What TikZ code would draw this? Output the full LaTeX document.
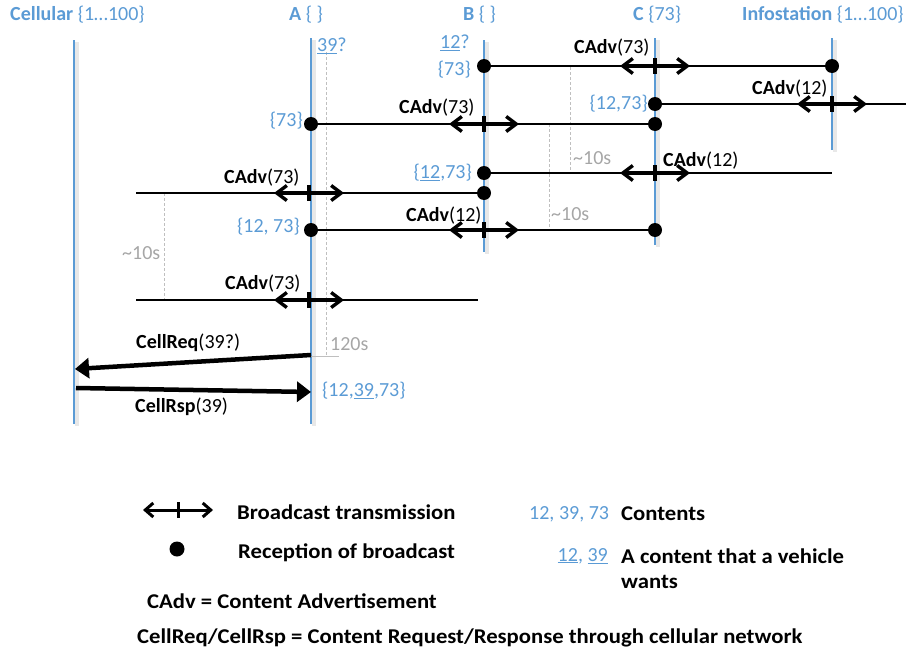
\documentclass[tikz,border=0pt]{standalone}
\usepackage{fontspec}
\setmainfont{Carlito}
\usetikzlibrary{arrows.meta}
\definecolor{lblue}{HTML}{5B9BD5}
\definecolor{tgray}{HTML}{A6A6A6}
\definecolor{dgray}{HTML}{BFBFBF}
\newcommand\bcmark[3]{%
  \coordinate (#1l) at ({#2-35},#3);
  \coordinate (#1r) at ({#2+35},#3);
  \coordinate (#1t) at (#2,{#3-8});
  \coordinate (#1b) at (#2,{#3+8});
  \draw[bcarrow] (#1l) -- (#1r);
  \draw[bctick] (#1t) -- (#1b);}
\newcommand\legtext[1]{\fontsize{21}{25}\selectfont\scalebox{1.08}[1]{\textbf{#1}}}
\begin{document}
\begin{tikzpicture}[x=1pt,y=-1pt,font=\fontsize{20}{24}\selectfont,
  lifeline/.style={draw=lblue,line width=2.5pt},
  lshadow/.style={draw=black,opacity=0.09,line width=3.5pt},
  msg/.style={draw=black,line width=1.3pt},
  bcarrow/.style={draw=black,line width=3.4pt,{Straight Barb[length=10pt,width=15pt]}-{Straight Barb[length=10pt,width=15pt]}},
  bctick/.style={draw=black,line width=3.4pt},
  dot/.style={circle,fill=black,minimum size=14pt,inner sep=0pt},
  gdash/.style={draw=dgray,line width=0.8pt,dash pattern=on 3pt off 2pt},
  cellarr/.style={draw=black,line width=4.5pt,-{Triangle[length=14pt,width=20pt]}},
  lbl/.style={inner sep=0pt,anchor=west},
  lble/.style={inner sep=0pt,anchor=east},
  bl/.style={text=lblue},
  gl/.style={text=tgray}]
\useasboundingbox (0,0) rectangle (906,656);

% headers
\node[lbl,bl] (hCell) at (10,15) {\textbf{Cellular} \{1…100\}};
\node[lbl,bl] (hA) at (289,15) {\textbf{A} \{~\}};
\node[lbl,bl] (hB) at (463,15) {\textbf{B} \{~\}};
\node[lbl,bl] (hC) at (633,15) {\textbf{C} \{73\}};
\node[lbl,bl] (hI) at (742,15) {\textbf{Infostation} \{1…100\}};

% lifelines
\coordinate (cT) at (74,40);  \coordinate (cB) at (74,424);
\coordinate (aT) at (311,38); \coordinate (aB) at (311,424);
\coordinate (bT) at (484,40); \coordinate (bB) at (484,252);
\coordinate (CT) at (655,38); \coordinate (CB) at (655,245);
\coordinate (iT) at (832,38); \coordinate (iB) at (832,150);
\foreach \p in {c,a,b,C,i}{
  \draw[lshadow] ([xshift=3pt,yshift=-2pt]\p T) -- ([xshift=3pt,yshift=-2pt]\p B);
  \draw[lifeline] (\p T) -- (\p B);
}

% gray dashed intervals
\coordinate (dA1) at (326,52);  \coordinate (dA2) at (326,355);
\coordinate (d1a) at (570,67);  \coordinate (d1b) at (570,173);
\coordinate (d2a) at (549,124); \coordinate (d2b) at (549,230);
\coordinate (d3a) at (164,193); \coordinate (d3b) at (164,300);
\draw[gdash] (dA1) -- (dA2);
\draw[gdash] (d1a) -- (d1b);
\draw[gdash] (d2a) -- (d2b);
\draw[gdash] (d3a) -- (d3b);
\coordinate (t120a) at (311,356); \coordinate (t120b) at (339,356);
\draw[draw=dgray,line width=1pt] (t120a) -- (t120b);

% message lines
\coordinate (m1a) at (484,66);  \coordinate (m1b) at (832,66);
\coordinate (m2a) at (655,104); \coordinate (m2b) at (906,104);
\coordinate (m3a) at (311,124); \coordinate (m3b) at (655,124);
\coordinate (m5a) at (484,173); \coordinate (m5b) at (832,173);
\coordinate (m6a) at (136,193); \coordinate (m6b) at (484,193);
\coordinate (m7a) at (311,230); \coordinate (m7b) at (655,230);
\coordinate (m9a) at (136,300); \coordinate (m9b) at (478,300);
\foreach \m in {m1,m2,m3,m5,m6,m7,m9}{\draw[msg] (\m a) -- (\m b);}

% receptions
\node[dot] (r1) at (m1a) {};
\node[dot] (r2) at (m1b) {};
\node[dot] (r3) at (m2a) {};
\node[dot] (r4) at (m3a) {};
\node[dot] (r5) at (m3b) {};
\node[dot] (r6) at (m5a) {};
\node[dot] (r7) at (m6b) {};
\node[dot] (r8) at (m7a) {};
\node[dot] (r9) at (m7b) {};

% broadcasts
\bcmark{b1}{655}{66}
\bcmark{b2}{832}{104}
\bcmark{b3}{484}{124}
\bcmark{b5}{655}{173}
\bcmark{b6}{309}{193}
\bcmark{b7}{484}{230}
\bcmark{b9}{309}{300}

% labels
\node[lbl] (L1) at (574,48) {\textbf{CAdv}(73)};
\node[lbl] (L2) at (752,89) {\textbf{CAdv}(12)};
\node[lbl] (L3) at (399,108) {\textbf{CAdv}(73)};
\node[lbl] (L5) at (663,161) {\textbf{CAdv}(12)};
\node[lbl] (L6) at (224,178) {\textbf{CAdv}(73)};
\node[lbl] (L7) at (406,216) {\textbf{CAdv}(12)};
\node[lbl] (L9) at (225,284) {\textbf{CAdv}(73)};

\node[lbl,bl] (q39) at (317,46) {\underline{39}?};
\node[lbl,bl] (q12) at (440,43) {\underline{12}?};
\node[lble,bl] (sB1) at (471,70) {\{73\}};
\node[lble,bl] (sA1) at (303,121) {\{73\}};
\node[lble,bl] (sC1) at (648,104) {\{12,73\}};
\node[lble,bl] (sB2) at (472,173) {\{\underline{12},73\}};
\node[lble,bl] (sA2) at (300,227) {\{12, 73\}};
\node[lbl,bl] (sA3) at (322,391) {\{12,\underline{39},73\}};

\node[lbl,gl] (g1) at (573,158) {\textasciitilde10s};
\node[lbl,gl] (g2) at (551,214) {\textasciitilde10s};
\node[lbl,gl] (g3) at (122,253) {\textasciitilde10s};
\node[lbl,gl] (g4) at (330,344) {120s};

% cellular
\coordinate (q1) at (311,355); \coordinate (q2) at (75,369);
\coordinate (p1) at (76,388);  \coordinate (p2) at (311,392);
\draw[cellarr] (q1) -- (q2);
\draw[cellarr] (p1) -- (p2);
\node[lbl] (Lq) at (136,343) {\textbf{CellReq}(39?)};
\node[lbl] (Lp) at (135,407) {\textbf{CellRsp}(39)};

% legend
\coordinate (lgA) at (143,510); \coordinate (lgB) at (213,510);
\coordinate (lgT) at (178,502); \coordinate (lgU) at (178,518);
\draw[black,line width=3pt,{Straight Barb[length=8pt,width=14pt]}-{Straight Barb[length=8pt,width=14pt]}] (lgA) -- (lgB);
\draw[black,line width=3pt] (lgT) -- (lgU);
\node[dot,minimum size=15pt] (lgdot) at (177,549) {};
\node[lbl] (t1) at (237,512) {\legtext{Broadcast transmission}};
\node[lbl] (t2) at (238,553) {\legtext{Reception of broadcast}};
\node[lbl] (t3) at (147,601) {\legtext{CAdv = Content Advertisement}};
\node[lbl] (t4) at (137,638) {\legtext{CellReq/CellRsp = Content Request/Response through cellular network}};
\node[lbl,bl] (t5) at (529,514) {12, 39, 73};
\node[lbl] (t6) at (621,514) {\legtext{Contents}};
\node[lble,bl] (t7) at (608,556) {\underline{12}, \underline{39}};
\node[lbl] (t8) at (621,556) {\legtext{A content that a vehicle}};
\node[lbl] (t9) at (621,582) {\legtext{wants}};
\end{tikzpicture}
\end{document}
